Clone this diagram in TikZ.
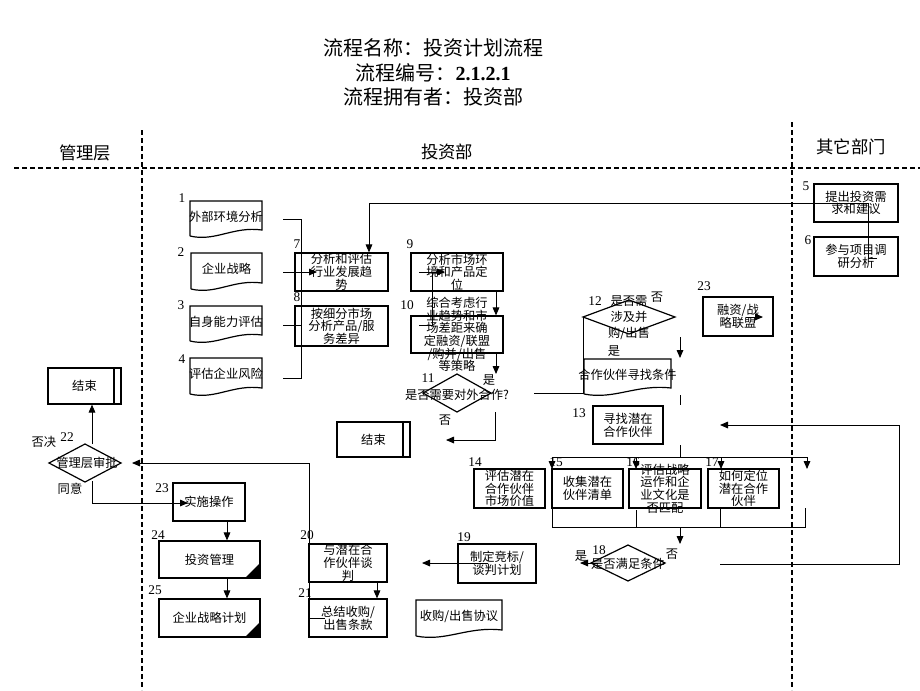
\documentclass[tikz,border=0pt]{standalone}
\usepackage{fontspec}
\setmainfont{Liberation Serif}
\newfontfamily\cjk{Noto Sans CJK SC}
\usetikzlibrary{arrows.meta,fit}
\tikzset{
  ln/.style={line width=0.7pt},
  arr/.style={line width=0.7pt,-{Triangle[length=6pt,width=5pt]}},
  boxline/.style={line width=0.9pt},
  boxst/.style={draw,line width=0.9pt,inner sep=0pt},
  txt/.style={font=\cjk\fontsize{9.2}{9.5}\selectfont,align=center,inner sep=0pt},
  num/.style={font=\fontsize{10}{11}\selectfont,inner sep=0pt},
  titletxt/.style={font=\fontsize{15}{18}\selectfont,inner sep=0pt},
  lanetxt/.style={font=\cjk\fontsize{13}{15}\selectfont,inner sep=0pt},
  lanest/.style={line width=1pt,dash pattern=on 3.5pt off 2.5pt}
}
\newcommand\bx[6]{\node[boxst,fit={(#2,#3)(#4,#5)}] (#1) {};
  \node[txt] (#1t) at (#1.center) {#6};}
\newcommand\docsh[6]{\draw[boxline] (#2,#5) -- (#2,#3) -- (#4,#3) -- (#4,#5-6)
  .. controls ({0.4*#2+0.6*#4},{#5-10}) and ({0.65*#2+0.35*#4},{#5+6}) .. (#2,#5);
  \node[txt] (#1) at ({(#2+#4)/2},{(#3+#5)/2-2}) {#6};}
\newcommand\dia[6]{\draw[boxline] ({#2-#4},#3) coordinate (#1-w) -- (#2,{#3-#5}) coordinate (#1-n)
  -- ({#2+#4},#3) coordinate (#1-e) -- (#2,{#3+#5}) coordinate (#1-s) -- cycle;}
\begin{document}
\begin{tikzpicture}[x=0.75pt,y=-0.75pt]
\useasboundingbox (0,0) rectangle (920,690);
\fill[white] (0,0) rectangle (920,690);
% title
\node[titletxt] (t1) at (433,48) {\cjk 流程名称：投资计划流程};
\node[titletxt] (t2) at (433,73) {{\cjk 流程编号：}\textbf{2.1.2.1}};
\node[titletxt] (t3) at (433,97) {\cjk 流程拥有者：投资部};
% lanes
\draw[lanest] (14,168) -- (920,168);
\draw[lanest] (142,130) -- (142,690);
\draw[lanest] (792,122) -- (792,690);
\node[lanetxt] (l1) at (85,153) {管理层};
\node[lanetxt] (l2) at (447,152) {投资部};
\node[lanetxt] (l3) at (851,147) {其它部门};
% documents
\docsh{d1}{190}{201}{262}{236}{外部环境分析}
\docsh{d2}{191}{253}{262}{289}{企业战略}
\docsh{d3}{190}{306}{262}{341}{自身能力评估}
\docsh{d4}{190}{358}{262}{394}{评估企业风险}
\docsh{dc}{584}{359}{671}{394}{合作伙伴寻找条件}
\docsh{da}{416}{600}{502}{636}{收购/出售协议}
% boxes
\bx{b5}{814}{184}{898}{222}{提出投资需\\求和建议}
\bx{b6}{814}{237}{898}{276}{参与项目调\\研分析}
\bx{b7}{295}{253}{388}{291}{分析和评估\\行业发展趋\\势}
\bx{b8}{295}{306}{388}{346}{按细分市场\\分析产品/服\\务差异}
\bx{b9}{411}{253}{503}{291}{分析市场环\\境和产品定\\位}
\bx{b10}{411}{316}{503}{353}{综合考虑行\\业趋势和市\\场差距来确\\定融资/联盟\\/购并/出售\\等策略}
\bx{b23r}{703}{297}{773}{336}{融资/战\\略联盟}
\bx{b13}{593}{406}{663}{444}{寻找潜在\\合作伙伴}
\bx{b14}{474}{469}{545}{508}{评估潜在\\合作伙伴\\市场价值}
\bx{b15}{552}{469}{623}{508}{收集潜在\\伙伴清单}
\bx{b16}{629}{469}{701}{508}{评估战略\\运作和企\\业文化是\\否匹配}
\bx{b17}{708}{469}{779}{508}{如何定位\\潜在合作\\伙伴}
\bx{b19}{458}{544}{536}{583}{制定竞标/\\谈判计划}
\bx{b20}{309}{544}{387}{582}{与潜在合\\作伙伴谈\\判}
\bx{b21}{309}{599}{387}{637}{总结收购/\\出售条款}
\bx{b23}{173}{483}{245}{521}{实施操作}
\bx{b24}{159}{541}{260}{578}{投资管理}
\bx{b25}{159}{599}{260}{637}{企业战略计划}
\bx{e1}{48}{368}{121}{404}{结束}
\bx{e2}{337}{422}{410}{457}{结束}
\draw[boxline] (114,368) -- (114,404);
\draw[boxline] (403,422) -- (403,457);
\fill (245,578) -- (260,578) -- (260,563) -- cycle;
\fill (245,637) -- (260,637) -- (260,622) -- cycle;
% diamonds
\dia{m11}{457}{393}{34}{19}{}
\node[txt] (m11t) at (457,395) {是否需要对外合作?};
\dia{m12}{629}{317}{46}{17}{}
\node[txt] (m12t) at (629,318) {是否需\\[2.6pt]涉及并\\[2.6pt]购/出售};
\dia{m18}{628}{563}{37}{18}{}
\node[txt] (m18t) at (628,564) {是否满足条件};
\dia{m22}{85}{463}{36}{19}{}
\node[txt] (m22t) at (87,463) {管理层审批};
% number labels
\node[num] (n1) at (182,198) {1};
\node[num] (n2) at (181,252) {2};
\node[num] (n3) at (181,305) {3};
\node[num] (n4) at (182,359) {4};
\node[num] (n5) at (806,186) {5};
\node[num] (n6) at (808,240) {6};
\node[num] (n7) at (297,244) {7};
\node[num] (n8) at (297,297) {8};
\node[num] (n9) at (410,244) {9};
\node[num] (n10) at (407,305) {10};
\node[num] (n11) at (428,378) {11};
\node[num] (n12) at (595,301) {12};
\node[num] (n13) at (579,413) {13};
\node[num] (n14) at (475,462) {14};
\node[num] (n15) at (556,462) {15};
\node[num] (n16) at (633,462) {16};
\node[num] (n17) at (712,462) {17};
\node[num] (n18) at (599,550) {18};
\node[num] (n19) at (464,537) {19};
\node[num] (n20) at (307,535) {20};
\node[num] (n21) at (305,593) {21};
\node[num] (n22) at (67,437) {22};
\node[num] (n23) at (162,488) {23};
\node[num] (n23r) at (704,286) {23};
\node[num] (n24) at (158,535) {24};
\node[num] (n25) at (155,590) {25};
% branch labels
\node[txt] (y11) at (489,380) {是};
\node[txt] (no11) at (445,420) {否};
\node[txt] (no12) at (657,297) {否};
\node[txt] (y12) at (614,351) {是};
\node[txt] (y18) at (581,556) {是};
\node[txt] (no18) at (672,554) {否};
\node[txt] (no22) at (44,442) {否决};
\node[txt] (y22) at (70,489) {同意};
% connectors
\draw[ln] (283,219) -- (301,219) -- (301,378) -- (283,378);
\draw[ln] (283,325) -- (301,325);
\draw[arr] (283,272) -- (317,272);
\draw[arr] (877,258) -- (868,258) -- (868,203) -- (369,203) -- (369,0 |- b7.north);
\draw[arr] (419,272) -- (445,272);
\draw[ln] (419,325) -- (432,325) -- (432,272);
\draw[arr] (496,0 |- b9.south) -- (496,0 |- b10.north);
\draw[arr] (496,0 |- b10.south) -- (496,374);
\draw[arr] (495,412) -- (495,440) -- (446,440);
\draw[ln] (534,393) -- (583,393) -- (m12-w);
\draw[arr] (680,337) -- (680,358);
\draw[ln] (680,395) -- (680,405);
\draw[ln] (680,445) -- (680,457);
\draw[ln] (552,457) -- (807,457);
\foreach \x in {552,636,721,807} \draw[arr] (\x,457) -- (\x,469);
\draw[ln] (552,508) -- (552,527) -- (805,527) -- (805,508);
\draw[ln] (636,510) -- (636,527);
\draw[ln] (720,508) -- (720,527);
\draw[arr] (680,527) -- (680,544);
\draw[arr] (598,563) -- (580,563);
\draw[arr] (720,564) -- (899,564) -- (899,425) -- (720,425);
\draw[arr] (488,563) -- (422,563);
\draw[arr] (377,0 |- b20.south) -- (377,0 |- b21.north);
\draw[arr] (325,618) -- (309,618) -- (309,463) -- (132,463);
\draw[arr] (92,444) -- (92,0 |- e1.south);
\draw[arr] (92,481) -- (92,503) -- (188,503);
\draw[arr] (227,0 |- b23.south) -- (227,0 |- b24.north);
\draw[arr] (227,0 |- b24.south) -- (227,0 |- b25.north);
\draw[arr] (746,317) -- (763,317);
\end{tikzpicture}
\end{document}
